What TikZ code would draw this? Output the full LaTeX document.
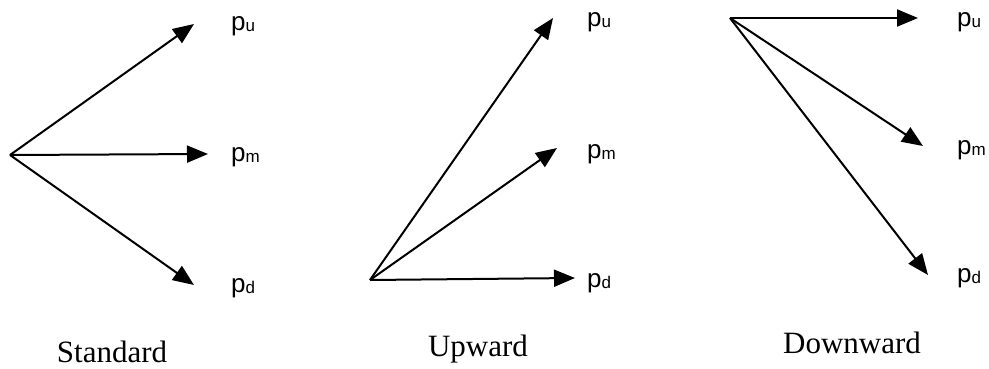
\documentclass[tikz,border=0pt]{standalone}
\usepackage{fontspec}
\setmainfont{Liberation Serif}
\newfontfamily\lblfont{Liberation Sans}
\usetikzlibrary{arrows.meta}
\tikzset{
  vec/.style={line width=2pt, -{Triangle[length=21pt,width=17pt]}},
  plabel/.style={anchor=base west, inner sep=0pt, font=\lblfont\fontsize{26}{30}\selectfont},
  caption/.style={anchor=base, inner sep=0pt, font=\fontsize{31}{36}\selectfont}
}
\newcommand{\psub}[1]{p{\fontsize{17}{20}\selectfont\raisebox{-1pt}{#1}}}
\begin{document}
\begin{tikzpicture}[x=1pt,y=-1pt]
\useasboundingbox (0,0) rectangle (989,369);
% Standard
\coordinate (o1) at (10,155);
\coordinate (u1) at (194,24);
\coordinate (m1) at (208,154);
\coordinate (d1) at (194,285);
\draw[vec] (o1) -- (u1);
\draw[vec] (o1) -- (m1);
\draw[vec] (o1) -- (d1);
\node[plabel] (lu1) at (231,31) {\psub{u}};
\node[plabel] (lm1) at (231,161) {\psub{m}};
\node[plabel] (ld1) at (231,292) {\psub{d}};
\node[caption] (c1) at (112,362) {Standard};
% Upward
\coordinate (o2) at (370,280);
\coordinate (u2) at (553,18);
\coordinate (m2) at (557,148);
\coordinate (d2) at (575,278);
\draw[vec] (o2) -- (u2);
\draw[vec] (o2) -- (m2);
\draw[vec] (o2) -- (d2);
\node[plabel] (lu2) at (587,27) {\psub{u}};
\node[plabel] (lm2) at (587,158) {\psub{m}};
\node[plabel] (ld2) at (587,287) {\psub{d}};
\node[caption] (c2) at (478,356) {Upward};
% Downward
\coordinate (o3) at (730,18);
\coordinate (u3) at (918,18);
\coordinate (m3) at (923,146);
\coordinate (d3) at (928,275);
\draw[vec] (o3) -- (u3);
\draw[vec] (o3) -- (m3);
\draw[vec] (o3) -- (d3);
\node[plabel] (lu3) at (957,27) {\psub{u}};
\node[plabel] (lm3) at (957,154) {\psub{m}};
\node[plabel] (ld3) at (957,282) {\psub{d}};
\node[caption] (c3) at (852,353) {Downward};
\end{tikzpicture}
\end{document}
